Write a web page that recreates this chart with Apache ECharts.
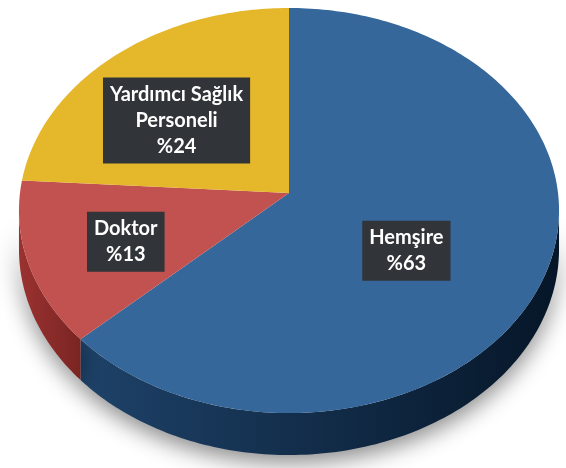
<!DOCTYPE html>
<html>
<head>
<meta charset="utf-8">
<script src="https://cdn.jsdelivr.net/npm/echarts@6/dist/echarts.min.js"></script>
<style>
  html, body { margin: 0; padding: 0; background: #fff; }
  #chart { width: 566px; height: 468px; }
</style>
</head>
<body>
<div id="chart"></div>
<script>
// slice names and shares (%), clockwise from 12 o'clock
const categories = ['Hemşire', 'Doktor', 'Yardımcı Sağlık\nPersoneli'];
const values = [63, 13, 24];

const topColors = ['#35679a', '#c2524f', '#e5b72a'];
const sideColors = [['#1e4269', '#061628'], ['#9a3230', '#7a2523'], ['#b08a18', '#8f6f10']];
// label placement: [radius fraction, angle shift in degrees]
const labelPlace = [[0.51, 10], [0.64, -2], [0.57, -6]];

const chart = echarts.init(document.getElementById('chart'), null, { renderer: 'canvas' });
const total = values.reduce((a, b) => a + b, 0);

function renderSlice(params, api) {
  const idx = params.dataIndex;
  const W = api.getWidth(), H = api.getHeight();
  const cx = W * 0.5106, cy = H * 0.4124;
  const rx = W * 0.4753, ry = H * 0.4295;
  const k = 0.0865;                 // perspective strength
  const depth = H * 0.082;
  const rad = Math.PI / 180;

  // tilted disc with a little perspective: near side larger
  const proj = (t, f, drop) => {
    const c = Math.cos(t * rad), sn = Math.sin(t * rad);
    const s = 1 / (1 - k * f * sn);
    return [cx + rx * f * c * s, cy + (ry * f * sn + (drop || 0)) * s];
  };

  let before = 0;
  for (let i = 0; i < idx; i++) before += values[i];
  const a0 = -90 + before / total * 360;
  const a1 = a0 + api.value(0) / total * 360;

  const topPts = [proj(0, 0)];
  for (let t = a0; t < a1; t += 1) topPts.push(proj(t, 1));
  topPts.push(proj(a1, 1));

  const children = [];
  const edge = Math.asin(k) / rad;
  [-360, 0, 360].forEach(off => {
    const s = Math.max(a0, off + edge), e = Math.min(a1, off + 180 - edge);
    if (e <= s) return;
    const pts = [];
    for (let t = s; t < e; t += 1) pts.push(proj(t, 1));
    pts.push(proj(e, 1));
    for (let t = e; t > s; t -= 1) pts.push(proj(t, 1, depth));
    pts.push(proj(s, 1, depth));
    children.push({
      type: 'polygon',
      z2: 1,
      shape: { points: pts },
      style: {
        fill: new echarts.graphic.LinearGradient(0, 0, 1, 0, [
          { offset: 0, color: sideColors[idx][0] },
          { offset: 1, color: sideColors[idx][1] }
        ]),
        shadowBlur: 22,
        shadowColor: 'rgba(0,0,0,0.45)',
        shadowOffsetY: 8
      }
    });
  });

  children.push({
    type: 'polygon',
    z2: 10,
    shape: { points: topPts },
    style: { fill: topColors[idx] }
  });

  const mid = (a0 + a1) / 2 + labelPlace[idx][1];
  const lp = proj(mid, labelPlace[idx][0]);
  children.push({
    type: 'text',
    z2: 20,
    style: {
      text: categories[idx] + '\n%' + api.value(0),
      x: lp[0],
      y: lp[1],
      align: 'center',
      verticalAlign: 'middle',
      fill: '#ffffff',
      font: 'bold 20px Lato',
      lineHeight: 26,
      backgroundColor: '#313438',
      padding: [4, 7, 4, 7],
      boxShadowBlur: 6,
      boxShadowColor: 'rgba(0,0,0,0.55)',
      boxShadowOffsetX: 3,
      boxShadowOffsetY: 3
    }
  });

  return { type: 'group', children: children };
}

chart.setOption({
  animation: false,
  series: [{
    type: 'custom',
    coordinateSystem: 'none',
    renderItem: renderSlice,
    data: values.map(v => [v])
  }]
});
</script>
</body>
</html>
